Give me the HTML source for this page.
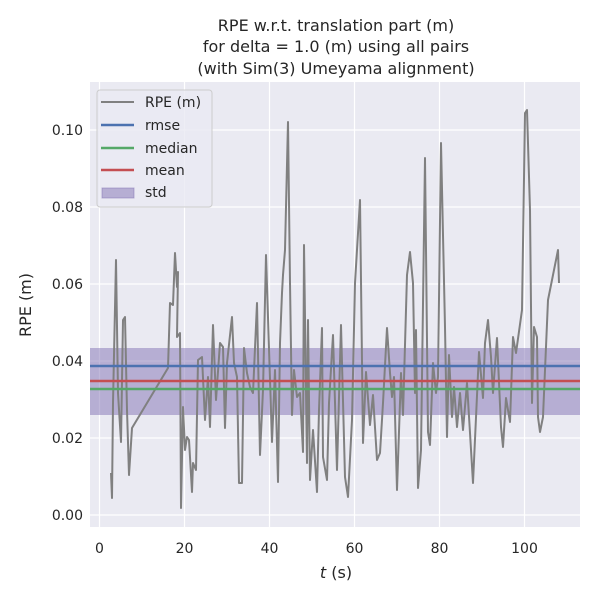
<!DOCTYPE html>
<html><head><meta charset="utf-8"><style>body{margin:0;background:#fff}</style></head><body>
<svg width="600" height="600" xmlns="http://www.w3.org/2000/svg" font-family="'DejaVu Sans', 'Liberation Sans', sans-serif">
<rect width="600" height="600" fill="#fff"/>
<rect x="90" y="82" width="490" height="445" fill="#eaeaf2"/>
<g stroke="#fff" stroke-width="1.2">
<line x1="99.5" y1="82" x2="99.5" y2="527"/><line x1="184.5" y1="82" x2="184.5" y2="527"/><line x1="269.5" y1="82" x2="269.5" y2="527"/><line x1="354.5" y1="82" x2="354.5" y2="527"/><line x1="439.5" y1="82" x2="439.5" y2="527"/><line x1="524.5" y1="82" x2="524.5" y2="527"/>
<line x1="90" y1="515" x2="580" y2="515"/><line x1="90" y1="438" x2="580" y2="438"/><line x1="90" y1="361" x2="580" y2="361"/><line x1="90" y1="284" x2="580" y2="284"/><line x1="90" y1="207" x2="580" y2="207"/><line x1="90" y1="130" x2="580" y2="130"/>
</g>
<rect x="90" y="348" width="490" height="67" fill="#8172b3" fill-opacity="0.5"/>
<polyline fill="none" stroke="#808080" stroke-width="2" stroke-linejoin="round" points="111,473 112,498 113,403 116,260 118,393 121,442 123,320 125,317 127,410 129,475 132,428 168,368 170,303 173,305 175,253 177,287 178,272 177,337 180,333 181,508 183,407 185,450 187,437 189,440 192,492 193,463 196,470 198,360 202,357 205,420 208,377 210,427 213,325 216,400 220,343 223,347 225,428 227,363 232,317 234,363 237,377 239,483 242,483 244,348 247,373 250,387 253,393 257,303 260,455 263,390 266,255 272,442 275,370 278,482 280,343 282,293 283,275 285,250 288,122 290,283 292,415 294,370 297,397 300,393 303,452 304,245 307,463 308,320 310,480 313,430 317,492 319,410 322,328 323,457 327,480 329,403 333,335 337,470 341,325 345,477 348,497 352,420 355,283 360,200 363,443 366,372 370,425 373,395 377,460 380,453 383,403 387,328 390,373 392,397 394,377 397,490 401,373 403,415 407,275 410,252 413,283 415,393 416,330 418,488 421,450 425,158 428,432 430,445 433,363 436,393 438,377 441,143 445,327 447,437 449,355 452,417 454,387 457,427 460,393 463,430 467,383 473,483 479,352 483,398 485,343 488,320 491,357 493,393 497,338 501,427 503,447 506,398 510,422 513,337 516,353 522,310 525,113 527,110 530,210 532,403 534,327 537,337 538,417 540,432 543,417 548,300 558,250 559,283"/>
<line x1="90" y1="366" x2="580" y2="366" stroke="#4c72b0" stroke-width="2.5"/>
<line x1="90" y1="389" x2="580" y2="389" stroke="#55a868" stroke-width="2.5"/>
<line x1="90" y1="381" x2="580" y2="381" stroke="#c44e52" stroke-width="2.5"/>
<g>
<rect x="97" y="90" width="115" height="117" rx="3" fill="#eaeaf2" fill-opacity="0.8" stroke="#cccccc"/>
<line x1="101" y1="102" x2="134" y2="102" stroke="#808080" stroke-width="2"/>
<line x1="101" y1="125" x2="134" y2="125" stroke="#4c72b0" stroke-width="2.5"/>
<line x1="101" y1="148" x2="134" y2="148" stroke="#55a868" stroke-width="2.5"/>
<line x1="101" y1="170" x2="134" y2="170" stroke="#c44e52" stroke-width="2.5"/>
<rect x="102" y="188" width="32" height="10" fill="#8172b3" fill-opacity="0.5" stroke="#8172b3" stroke-opacity="0.5"/>
<g font-size="14" fill="#262626">
<text x="145" y="107">RPE (m)</text><text x="145" y="130">rmse</text><text x="145" y="153">median</text><text x="145" y="175">mean</text><text x="145" y="197">std</text>
</g></g>
<g font-size="14" fill="#262626" text-anchor="end">
<text x="83" y="520">0.00</text><text x="83" y="443">0.02</text><text x="83" y="366">0.04</text><text x="83" y="289">0.06</text><text x="83" y="212">0.08</text><text x="83" y="135">0.10</text>
</g>
<g font-size="14" fill="#262626" text-anchor="middle">
<text x="99.5" y="553">0</text><text x="184.5" y="553">20</text><text x="269.5" y="553">40</text><text x="354.5" y="553">60</text><text x="439.5" y="553">80</text><text x="524.5" y="553">100</text>
<text x="336" y="578" font-size="16"><tspan font-style="italic">t</tspan> (s)</text>
<text x="336" y="31" font-size="16">RPE w.r.t. translation part (m)</text>
<text x="336" y="52" font-size="16">for delta = 1.0 (m) using all pairs</text>
<text x="336" y="74" font-size="16">(with Sim(3) Umeyama alignment)</text>
</g>
<text transform="translate(31,305) rotate(-90)" font-size="16" fill="#262626" text-anchor="middle">RPE (m)</text>
</svg>
</body></html>
